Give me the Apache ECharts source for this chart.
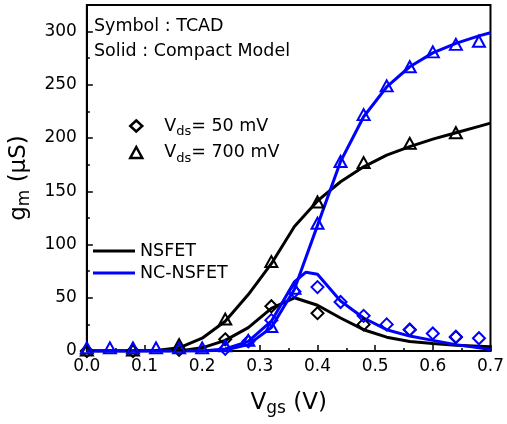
<!DOCTYPE html>
<html>
<head>
<meta charset="utf-8">
<script src="https://cdn.jsdelivr.net/npm/echarts@6/dist/echarts.min.js"></script>
<style>
  html, body { margin: 0; padding: 0; background: #fff; }
  #chart { width: 507px; height: 424px; }
</style>
</head>
<body>
<div id="chart"></div>
<script>
// compact model curves (solid lines)
const vgsLine = [0, 0.04, 0.08, 0.12, 0.16, 0.2, 0.24, 0.28, 0.32, 0.36, 0.4, 0.44, 0.48, 0.52, 0.56, 0.6, 0.64, 0.68, 0.7];
const nsfet700Line = [0, 0, 0, 0.5, 3, 12, 28, 53, 82, 117, 141, 159, 173, 184, 192, 199, 205, 211, 214];
const ncnsfet700Line = [0, 0, 0, 0, 0, 0, 1, 6, 22, 58, 118, 178, 220, 248, 267, 280, 289, 296, 299];
const nsfet50Line = [0, 0, 0, 0, 0, 3, 10, 22, 40, 50, 43, 31, 20, 13, 9, 7, 5.5, 4.5, 4];
const vgsLineNc50 = [0, 0.04, 0.08, 0.12, 0.16, 0.2, 0.24, 0.28, 0.32, 0.36, 0.38, 0.4, 0.44, 0.48, 0.52, 0.56, 0.6, 0.64, 0.68, 0.7];
const ncnsfet50Line = [0, 0, 0, 0, 0, 0, 2, 9, 28, 65, 74, 72, 47, 31, 20, 14, 10, 6, 3, 1.5];

// TCAD points (symbols)
const vgsTcad = [0, 0.04, 0.08, 0.12, 0.16, 0.2, 0.24, 0.28, 0.32, 0.36, 0.4, 0.44, 0.48, 0.52, 0.56, 0.6, 0.64, 0.68];
const ncnsfet700Tcad = [3, 3, 3, 3, 3, 3, 5, 10, 23, 59, 120, 178, 222, 249, 267, 281, 288, 291];
const vgsTcadNc50 = [0.24, 0.28, 0.32, 0.36, 0.4, 0.44, 0.48, 0.52, 0.56, 0.6, 0.64, 0.68];
const ncnsfet50Tcad = [2, 9, 29, 56, 60, 46, 33, 25, 20, 16.5, 13.5, 12];
const vgsTcadNsfet = [0, 0.08, 0.16, 0.24, 0.32, 0.4, 0.48, 0.56, 0.64];
const nsfet700Tcad = [1, 1, 6, 30, 84, 140, 177, 195, 205];
const nsfet50Tcad = [0, 0, 1, 11, 42, 35.5, 25, 20, 13];

const FONT = 'DejaVu Sans, Liberation Sans, sans-serif';
const BLACK = '#000000';
const BLUE = '#0000ff';
const LINE_ICON = 'path://M0,0H42V3H0Z';

function pairs(xs, ys) {
  return xs.map((x, i) => [x, ys[i]]);
}

function lineSeries(name, xs, ys, color) {
  return {
    name: name,
    type: 'line',
    data: pairs(xs, ys),
    symbol: 'none',
    smooth: false,
    lineStyle: { color: color, width: 3 },
    itemStyle: { color: color },
    z: 2
  };
}

function pointSeries(name, xs, ys, color, symbol, size) {
  return {
    name: name,
    type: 'scatter',
    data: pairs(xs, ys),
    symbol: symbol,
    symbolSize: size,
    itemStyle: { color: 'rgba(0,0,0,0)', borderColor: color, borderWidth: 2, opacity: 1 },
    z: 3
  };
}

const chart = echarts.init(document.getElementById('chart'));

const option = {
  animation: false,
  backgroundColor: '#fff',
  textStyle: { fontFamily: FONT, color: BLACK },
  title: {
    text: 'Symbol : TCAD\nSolid : Compact Model',
    left: 94,
    top: 14,
    padding: 0,
    textStyle: { fontFamily: FONT, fontSize: 17.5, fontWeight: 'normal', color: BLACK, lineHeight: 25 }
  },
  grid: {
    left: 82,
    right: 14,
    top: 5,
    bottom: 73,
    show: true,
    borderColor: BLACK,
    borderWidth: 2
  },
  legend: [
    {
      data: [{ name: 'NSFET', icon: LINE_ICON }, { name: 'NC-NSFET', icon: LINE_ICON }],
      orient: 'vertical',
      left: 93,
      top: 240,
      padding: 0,
      itemWidth: 42,
      itemHeight: 14,
      itemGap: 0,
      selectedMode: false,
      textStyle: { fontFamily: FONT, fontSize: 17.5, color: BLACK, lineHeight: 22 }
    },
    {
      data: [{ name: 'Vds50', icon: 'diamond' }, { name: 'Vds700', icon: 'triangle' }],
      orient: 'vertical',
      left: 129,
      top: 117,
      padding: 0,
      itemWidth: 12,
      itemHeight: 11,
      itemGap: 5,
      selectedMode: false,
      itemStyle: { color: 'rgba(0,0,0,0)', borderColor: BLACK, borderWidth: 2.5, opacity: 1 },
      formatter: function (name) {
        return name === 'Vds50' ? '{a|V}{b|ds}{a|= 50 mV}' : '{a|V}{b|ds}{a|= 700 mV}';
      },
      textStyle: {
        padding: [0, 0, 0, 17],
        rich: {
          a: { fontFamily: FONT, fontSize: 17.5, color: BLACK, lineHeight: 25 },
          b: { fontFamily: FONT, fontSize: 13, color: BLACK, lineHeight: 13, verticalAlign: 'bottom' }
        }
      }
    }
  ],
  xAxis: {
    type: 'value',
    min: 0,
    max: 0.7,
    interval: 0.1,
    name: '{v|V}{s|gs}{v| (V)}',
    nameLocation: 'middle',
    nameGap: 38,
    nameTextStyle: {
      rich: {
        v: { fontFamily: FONT, fontSize: 23, color: BLACK, lineHeight: 28 },
        s: { fontFamily: FONT, fontSize: 17, color: BLACK, lineHeight: 17, verticalAlign: 'bottom' }
      }
    },
    axisLine: { show: true, lineStyle: { color: BLACK, width: 2 } },
    axisTick: { show: true, inside: true, length: 6, lineStyle: { color: BLACK, width: 1.5 } },
    minorTick: { show: true, splitNumber: 2, length: 3, lineStyle: { color: BLACK, width: 1.5 } },
    axisLabel: {
      margin: 7,
      fontFamily: FONT,
      fontSize: 17,
      color: BLACK,
      formatter: function (v) { return v.toFixed(1); }
    },
    splitLine: { show: false }
  },
  yAxis: [
    {
      type: 'value',
      min: 0,
      max: 325,
      interval: 50,
      name: '{v|g}{s|m}{v| (μS)}',
      nameLocation: 'middle',
      nameRotate: 90,
      nameGap: 48,
      nameTextStyle: {
        rich: {
          v: { fontFamily: FONT, fontSize: 23, color: BLACK, lineHeight: 28 },
          s: { fontFamily: FONT, fontSize: 17, color: BLACK, lineHeight: 17, verticalAlign: 'bottom' }
        }
      },
      axisLine: { show: true, lineStyle: { color: BLACK, width: 2 } },
      axisTick: { show: true, inside: true, length: 6, lineStyle: { color: BLACK, width: 1.5 } },
      axisLabel: {
        margin: 10,
        fontFamily: FONT,
        fontSize: 17,
        color: BLACK,
        showMaxLabel: false
      },
      splitLine: { show: false }
    },
    {
      // minor ticks every 25
      type: 'value',
      min: 0,
      max: 325,
      interval: 25,
      position: 'left',
      axisLine: { show: false },
      axisTick: { show: true, inside: true, length: 3, lineStyle: { color: BLACK, width: 1.5 } },
      axisLabel: { show: false },
      splitLine: { show: false }
    }
  ],
  series: [
    lineSeries('NSFET', vgsLine, nsfet700Line, BLACK),
    lineSeries('NSFET', vgsLine, nsfet50Line, BLACK),
    pointSeries('NSFET 700 TCAD', vgsTcadNsfet, nsfet700Tcad, BLACK, 'triangle', [12, 11]),
    pointSeries('NSFET 50 TCAD', vgsTcadNsfet, nsfet50Tcad, BLACK, 'diamond', [12, 12]),
    lineSeries('NC-NSFET', vgsLine, ncnsfet700Line, BLUE),
    lineSeries('NC-NSFET', vgsLineNc50, ncnsfet50Line, BLUE),
    pointSeries('NC-NSFET 700 TCAD', vgsTcad, ncnsfet700Tcad, BLUE, 'triangle', [12, 11]),
    pointSeries('NC-NSFET 50 TCAD', vgsTcadNc50, ncnsfet50Tcad, BLUE, 'diamond', [12, 12]),
    // legend entries for the symbol key
    pointSeries('Vds50', [], [], BLACK, 'diamond', [12, 12]),
    pointSeries('Vds700', [], [], BLACK, 'triangle', [12, 11])
  ]
};

chart.setOption(option);
</script>
</body>
</html>
